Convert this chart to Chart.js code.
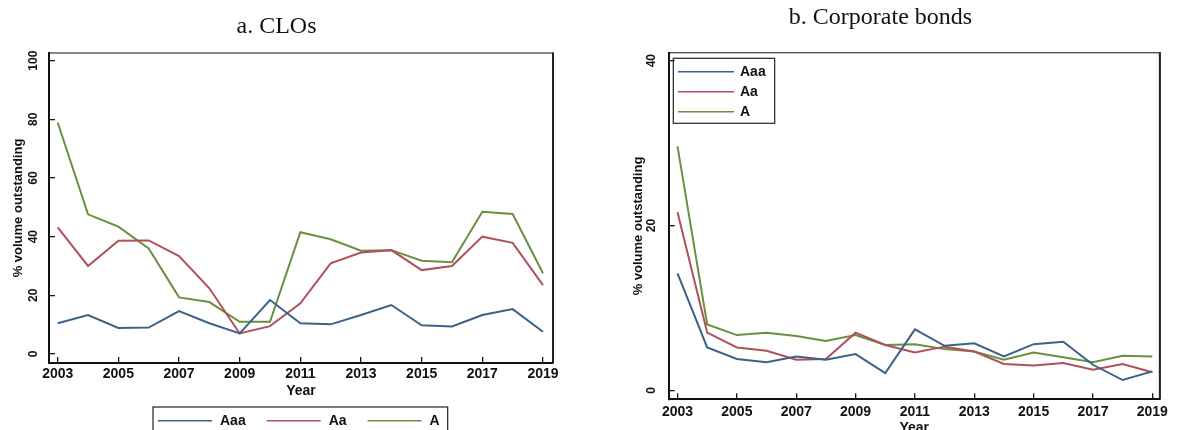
<!DOCTYPE html>
<html>
<head>
<meta charset="utf-8">
<script src="https://cdn.jsdelivr.net/npm/chart.js@4.4.1/dist/chart.umd.min.js"></script>
<style>
  html, body { margin: 0; padding: 0; background: #fff; overflow: hidden; width: 1178px; height: 430px; }
  #wrap { position: relative; width: 1178px; height: 430px; overflow: hidden; }
  canvas { position: absolute; top: 0; }
  #clo { left: 0; }
  #bonds { left: 590px; }
</style>
</head>
<body>
<div id="wrap">
  <canvas id="clo" width="590" height="450"></canvas>
  <canvas id="bonds" width="588" height="450"></canvas>
</div>
<script>
// ---- data ----
const years = [2003, 2004, 2005, 2006, 2007, 2008, 2009, 2010, 2011, 2012, 2013, 2014, 2015, 2016, 2017, 2018, 2019];
const yearTicks = [2003, 2005, 2007, 2009, 2011, 2013, 2015, 2017, 2019];
const ratingLabels = ['Aaa', 'Aa', 'A'];

// panel a: CLOs, % volume outstanding
const cloAaa = [10.5, 13.3, 8.9, 9.0, 14.6, 10.5, 7.0, 18.4, 10.5, 10.1, 13.3, 16.7, 9.8, 9.4, 13.3, 15.3, 7.6];
const cloAa  = [43.2, 30.0, 38.6, 38.7, 33.4, 22.4, 7.0, 9.5, 17.3, 30.9, 34.6, 35.4, 28.6, 30.0, 40.0, 37.9, 23.5];
const cloA   = [78.9, 47.6, 43.4, 36.0, 19.3, 17.7, 11.0, 11.0, 41.5, 39.1, 35.2, 35.4, 31.8, 31.3, 48.5, 47.7, 27.5];
const cloTicks = [0, 20, 40, 60, 80, 100];

// panel b: corporate bonds, % volume outstanding
const bondAaa = [14.2, 5.2, 3.8, 3.4, 4.1, 3.7, 4.4, 2.1, 7.4, 5.4, 5.7, 4.1, 5.6, 5.9, 3.1, 1.25, 2.3];
const bondAa  = [21.6, 7.0, 5.2, 4.8, 3.7, 3.8, 7.0, 5.5, 4.6, 5.3, 4.7, 3.2, 3.0, 3.3, 2.5, 3.2, 2.2];
const bondA   = [29.6, 8.0, 6.7, 7.0, 6.6, 6.0, 6.7, 5.5, 5.6, 5.0, 4.7, 3.7, 4.6, 4.0, 3.4, 4.2, 4.1];
const bondTicks = [0, 20, 40];

// ---- styling ----
const seriesColors = ['#3b6288', '#b0505a', '#6a8f3e'];
const SANS = "'Liberation Sans', Arial, sans-serif";
const SERIF = "'Liberation Serif', 'Times New Roman', serif";
const INK = '#111';

// plot region border (drawn before the axes so the axis lines sit on top)
const plotFrame = {
  id: 'plotFrame',
  beforeDraw(chart, args, opts) {
    const { ctx, chartArea: a } = chart;
    ctx.save();
    ctx.strokeStyle = opts.color;
    ctx.lineWidth = opts.width;
    ctx.strokeRect(a.left, a.top, a.right - a.left, a.bottom - a.top);
    ctx.strokeStyle = '#222';
    ctx.lineWidth = 2;
    ctx.beginPath();
    ctx.moveTo(a.right, a.top - 0.5);
    ctx.lineTo(a.right, a.bottom);
    ctx.stroke();
    ctx.restore();
  }
};

// boxed key with a short line sample per series
const boxedKey = {
  id: 'boxedKey',
  afterDraw(chart, args, o) {
    const { ctx } = chart;
    const sets = chart.data.datasets;
    ctx.save();
    ctx.font = 'bold 14px ' + SANS;
    ctx.textBaseline = 'middle';
    ctx.textAlign = 'left';
    let x = o.x, y = o.y, right = o.x;
    const items = [];
    sets.forEach((ds, i) => {
      const tw = ctx.measureText(ds.label).width;
      items.push({ ds, x, y });
      right = Math.max(right, x + o.lineLen + o.textGap + tw);
      if (o.layout === 'row') x += o.lineLen + o.textGap + tw + o.itemGap;
      else y += o.rowGap;
    });
    const lastY = items[items.length - 1].y;
    ctx.strokeStyle = '#222';
    ctx.lineWidth = 1.2;
    ctx.strokeRect(o.x - o.padL, o.y - o.padT, right + o.padR - (o.x - o.padL), lastY + o.padB - (o.y - o.padT));
    items.forEach(it => {
      ctx.strokeStyle = it.ds.borderColor;
      ctx.lineWidth = 1.4;
      ctx.beginPath();
      ctx.moveTo(it.x, it.y);
      ctx.lineTo(it.x + o.lineLen, it.y);
      ctx.stroke();
      ctx.fillStyle = INK;
      ctx.fillText(it.ds.label, it.x + o.lineLen + o.textGap, it.y + 0.5);
    });
    ctx.restore();
  }
};

function makeDatasets(seriesList) {
  return seriesList.map((vals, i) => ({
    label: ratingLabels[i],
    data: years.map((yr, j) => ({ x: yr, y: vals[j] })),
    borderColor: seriesColors[i],
    backgroundColor: seriesColors[i],
    borderWidth: 2,
    pointRadius: 0,
    tension: 0,
    fill: false
  }));
}

function makePanel(canvasId, p) {
  return new Chart(document.getElementById(canvasId), {
    type: 'line',
    data: { datasets: makeDatasets(p.series) },
    plugins: [plotFrame, boxedKey],
    options: {
      responsive: false,
      animation: false,
      devicePixelRatio: 1,
      layout: { padding: { left: 0, right: p.padRight, top: 0, bottom: 0 } },
      plugins: {
        legend: { display: false },
        tooltip: { enabled: false },
        title: {
          display: true,
          text: p.title,
          color: INK,
          font: { family: SERIF, size: 24, weight: 'normal', lineHeight: 1.2 },
          padding: p.titlePad
        },
        plotFrame: { color: '#4a4a4a', width: 1.3 },
        boxedKey: p.key
      },
      scales: {
        x: {
          type: 'linear',
          min: p.xMin,
          max: p.xMax,
          afterBuildTicks: s => { s.ticks = yearTicks.map(v => ({ value: v })); },
          afterFit: s => { s.height = p.xAxisHeight; },
          grid: { display: true, drawOnChartArea: false, drawTicks: true, tickLength: -6, color: INK, lineWidth: 1.3 },
          border: { display: true, color: INK, width: 2 },
          ticks: {
            color: INK,
            font: { family: SANS, size: 14, weight: 'bold' },
            padding: p.xTickPad,
            maxRotation: 0,
            autoSkip: false,
            callback: v => String(v)
          },
          title: {
            display: true,
            text: 'Year',
            color: INK,
            font: { family: SANS, size: 14, weight: 'bold', lineHeight: 1.2 },
            padding: { top: 0, bottom: p.xTitlePad }
          }
        },
        y: {
          type: 'linear',
          min: p.yMin,
          max: p.yMax,
          afterBuildTicks: s => { s.ticks = p.yTicks.map(v => ({ value: v })); },
          afterFit: s => { s.width = p.yAxisWidth; },
          grid: { display: true, drawOnChartArea: false, drawTicks: true, tickLength: -6, color: INK, lineWidth: 1.3 },
          border: { display: true, color: INK, width: 2 },
          ticks: {
            color: INK,
            font: { family: SANS, size: 12, weight: 'bold' },
            minRotation: 90,
            maxRotation: 90,
            crossAlign: 'center',
            padding: p.yTickPad,
            autoSkip: false,
            callback: v => String(v)
          },
          title: {
            display: true,
            text: '% volume outstanding',
            color: INK,
            font: { family: SANS, size: 13, weight: 'bold', lineHeight: 1.2 },
            padding: { top: p.yTitlePad, bottom: 0 }
          }
        }
      }
    }
  });
}

makePanel('clo', {
  title: 'a. CLOs',
  series: [cloAaa, cloAa, cloA],
  yTicks: cloTicks,
  xMin: 2002.713, xMax: 2019.33,
  yMin: -3.07, yMax: 102.6,
  padRight: 37,
  titlePad: { top: 12.8, bottom: 11.4 },
  xAxisHeight: 87, xTickPad: 9.1, xTitlePad: 50.6,
  yAxisWidth: 49, yTickPad: 11.5, yTitlePad: 10.7,
  key: { layout: 'row', x: 158, y: 420.7, lineLen: 54, textGap: 8, itemGap: 21, rowGap: 0, padL: 5, padR: 8, padT: 13.7, padB: 13.7 }
});

makePanel('bonds', {
  title: 'b. Corporate bonds',
  series: [bondAaa, bondAa, bondA],
  yTicks: bondTicks,
  xMin: 2002.703, xMax: 2019.254,
  yMin: -1.09, yMax: 40.97,
  padRight: 7,
  titlePad: { top: 3.6, bottom: 20.3 },
  xAxisHeight: 50.7, xTickPad: 10, xTitlePad: 13.9,
  yAxisWidth: 78.7, yTickPad: 16, yTitlePad: 40.2,
  key: { layout: 'column', x: 88, y: 71.7, lineLen: 56, textGap: 6, itemGap: 0, rowGap: 20, padL: 4.7, padR: 9, padT: 13.4, padB: 11.6 }
});
</script>
</body>
</html>
